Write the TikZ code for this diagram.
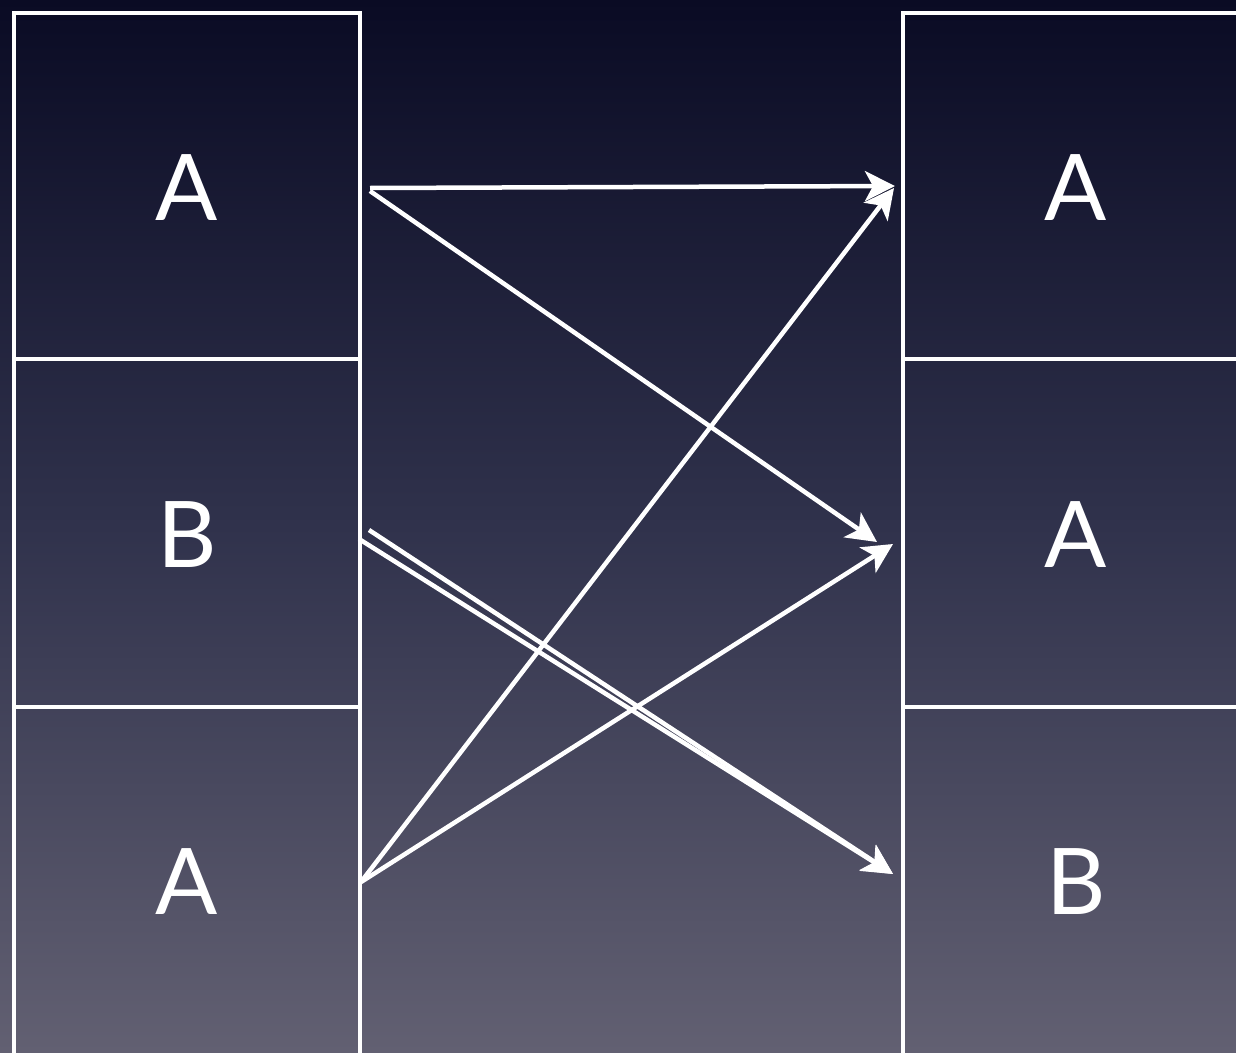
\documentclass[tikz,border=0pt]{standalone}
\usepackage{fontspec}
\setmainfont{Lato}
\usetikzlibrary{arrows.meta}
\definecolor{bgtop}{RGB}{10,11,36}
\definecolor{bgmid}{RGB}{48,50,76}
\definecolor{bgbot}{RGB}{98,96,114}
\tikzset{
  cell/.style={draw=white, line width=4.5pt, minimum width=346pt, inner sep=0pt, outer sep=0pt},
  lbl/.style={text=white, font=\fontsize{92}{100}\selectfont},
  conn/.style={draw=white, line width=4.5pt, -{Stealth[length=30pt, width=30pt, inset=8pt]}},
}
\begin{document}
\begin{tikzpicture}[x=1pt, y=-1pt]
\useasboundingbox (0,0) rectangle (1236,1052);
\shade[top color=bgtop, bottom color=bgbot, middle color=bgmid] (0,0) rectangle (1236,1052);
\begin{scope}
\clip (0,0) rectangle (1236,1052);
% left column
\node[cell, minimum height=346pt] (L1) at (187,186) {};
\node[cell, minimum height=348pt] (L2) at (187,533) {};
\node[cell, minimum height=360pt] (L3) at (187,887) {};
% right column
\node[cell, minimum height=346pt] (R1) at (1076,186) {};
\node[cell, minimum height=348pt] (R2) at (1076,533) {};
\node[cell, minimum height=360pt] (R3) at (1076,887) {};
\end{scope}
% labels
\node[lbl] (tL1) at (187,188) {A};
\node[lbl] (tL2) at (187,535) {B};
\node[lbl] (tL3) at (187,882) {A};
\node[lbl] (tR1) at (1076,188) {A};
\node[lbl] (tR2) at (1076,535) {A};
\node[lbl] (tR3) at (1076,882) {B};
% connector ends
\coordinate (a1) at (370,188);
\coordinate (a2) at (370,191);
\coordinate (b1) at (369,530);
\coordinate (b2) at (359,539);
\coordinate (c1) at (361,882);
\coordinate (t1) at (895,186);
\coordinate (t1b) at (894,188);
\coordinate (t2a) at (877,542);
\coordinate (t2b) at (893,544);
\coordinate (t3) at (893,874);
\draw[conn] (a1) -- (t1);
\draw[conn] (a2) -- (t2a);
\draw[conn] (c1) -- (t1b);
\draw[conn] (c1) -- (t2b);
\draw[conn] (b1) -- (t3);
\draw[conn] (b2) -- (t3);
\end{tikzpicture}
\end{document}
